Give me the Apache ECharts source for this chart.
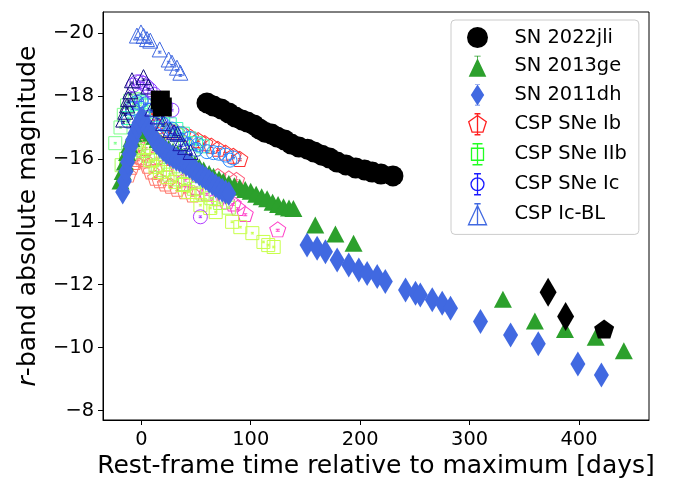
<!DOCTYPE html>
<html>
<head>
<meta charset="utf-8">
<script src="https://cdn.jsdelivr.net/npm/echarts@6/dist/echarts.min.js"></script>
<style>
  html, body { margin: 0; padding: 0; background: #ffffff; }
  #chart { width: 676px; height: 482px; }
</style>
</head>
<body>
<div id="chart"></div>
<script>
// ---- Axis ticks ----------------------------------------------------------
const xTicks = [0, 100, 200, 300, 400];
const yTicks = [-20, -18, -16, -14, -12, -10, -8];

// ---- SN 2022jli (black) : [day, mag] -------------------------------------
const jliCircles = [
  [60, -17.78], [66, -17.68], [73, -17.59], [80, -17.46], [86, -17.33],
  [92, -17.24], [97, -17.17], [103, -17.08], [108, -16.95], [113, -16.85],
  [119, -16.79], [124, -16.70], [131, -16.60], [137, -16.47], [144, -16.38],
  [152, -16.31], [158, -16.22], [165, -16.12], [172, -16.03], [179, -15.90],
  [187, -15.81], [196, -15.71], [204, -15.65], [211, -15.58], [219, -15.52],
  [230, -15.46]
];
const jliSquares = [[17.4, -17.87], [19.2, -17.65]];
const jliDiamonds = [[371.8, -11.76], [387.8, -10.99]];
const jliPentagons = [[423, -10.59]];

// ---- SN 2013ge (green triangles) ----------------------------------------
const sn2013ge = [
  [-19, -15.3], [-17, -15.6], [-15, -15.9], [-13, -16.2], [-11, -16.45],
  [-9, -16.65], [-7, -16.8], [-5, -16.9], [-3, -16.97], [0, -17.0],
  [3, -16.98], [6, -16.9], [9, -16.82], [12, -16.72], [15, -16.62],
  [18, -16.52], [21, -16.43], [25, -16.33], [29, -16.24], [33, -16.16],
  [37, -16.08], [41, -16.0], [45, -15.92], [49, -15.83], [53, -15.74],
  [57, -15.65], [62, -15.54], [66, -15.45], [71, -15.36], [75, -15.29],
  [80, -15.22], [85, -15.15], [90, -15.1], [95, -15.03], [100, -14.97],
  [105, -14.88], [110, -14.8], [115, -14.73], [120, -14.62], [125, -14.55],
  [130, -14.48], [135, -14.44], [139, -14.42],
  [159, -13.9], [177.4, -13.61], [194, -13.32],
  [330.5, -11.54], [359.7, -10.85], [387.2, -10.58], [415.3, -10.33], [441, -9.9]
];

// ---- SN 2011dh (blue thin diamonds) -------------------------------------
const sn2011dh = [
  [-17, -14.95], [-15.5, -15.3], [-14, -15.6], [-12.5, -15.9], [-11, -16.15],
  [-9.5, -16.4], [-8, -16.6], [-6, -16.8], [-4, -17.0], [-2, -17.15],
  [0, -17.28], [2, -17.22], [4, -17.1], [6, -16.95], [8, -16.85],
  [10, -16.75], [12, -16.62], [14, -16.52], [17, -16.4], [20, -16.3],
  [23, -16.2], [26, -16.13], [29, -16.07], [32, -16.0], [35, -15.95],
  [38, -15.9], [41, -15.83], [44, -15.77], [47, -15.68], [50, -15.6],
  [53, -15.52], [56, -15.45], [59, -15.38], [62, -15.3], [65, -15.22],
  [68, -15.14], [71, -15.07], [74, -15.0], [77, -14.95], [80, -14.9],
  [151.5, -13.26], [160.7, -13.16], [168.3, -13.05], [179, -12.79], [189.6, -12.63],
  [198.8, -12.47], [206.4, -12.36], [215.6, -12.26], [223, -12.1], [241.5, -11.83],
  [250.6, -11.73], [255, -11.67], [265.9, -11.52], [275, -11.41], [282.6, -11.25],
  [310, -10.83], [337.5, -10.4], [362.8, -10.12], [399, -9.48], [420.5, -9.13]
];

// ---- CSP SNe Ib (hollow pentagons) --------------------------------------
const ibSalmon = [
  [-12, -15.5], [-9, -15.75], [-6, -15.9], [-3, -16.0], [0, -16.05],
  [3, -15.95], [6, -15.78], [9, -15.6], [13, -15.4], [17, -15.32],
  [22, -15.22], [27, -15.15], [33, -15.05], [40, -14.97], [47, -14.87]
];
const ibRed = [
  [5, -17.3], [10, -17.2], [15, -17.05], [20, -16.95], [26, -16.9],
  [32, -16.85], [38, -16.8], [45, -16.7], [52, -16.6], [58, -16.5],
  [64, -16.42], [70, -16.32], [77, -16.2], [84, -16.1], [90, -16.0]
];
const ibRose = [
  [-4, -16.5], [4, -16.35], [14, -16.05], [24, -15.85], [34, -15.7],
  [46, -15.6], [58, -15.5], [70, -15.45], [80, -15.38], [87, -15.33]
];
const ibMagenta = [
  [40, -15.35], [50, -15.1], [60, -14.9], [70, -14.75], [78, -14.65],
  [84, -14.58], [88, -14.44], [95, -14.25], [124.7, -13.76]
];

// ---- CSP SNe IIb (hollow squares) ---------------------------------------
const iibYellowGreen = [
  [2, -16.38], [8, -15.96], [13, -15.74], [17, -15.58], [24, -15.42],
  [31, -15.27], [38, -15.17], [43, -14.95], [51, -14.85], [54, -14.53],
  [63, -14.44], [68, -14.31], [83, -14.0], [90.5, -13.83], [101.5, -13.64],
  [111.6, -13.36], [116, -13.26], [121, -13.2]
];
const iibLightGreen = [
  [-23.8, -16.5], [-19, -17.0], [-16, -17.4], [-13, -17.7], [-10, -17.85],
  [-6, -17.9], [-2, -17.85], [3, -17.7], [8, -17.5], [14, -17.3],
  [20, -17.1], [27, -16.9], [33, -16.75], [40, -16.5], [48, -16.3]
];
const iibAqua = [
  [-12, -17.3], [-8, -17.6], [-4, -17.75], [0, -17.8], [4, -17.7],
  [9, -17.55], [14, -17.4], [20, -17.25], [26, -17.1], [32, -16.95],
  [38, -16.8], [44, -16.65], [50, -16.5], [56, -16.4]
];
const iibLime = [
  [-18, -15.8], [-14, -16.0], [-10, -16.2], [-6, -16.3], [-2, -16.35],
  [2, -16.25], [6, -16.1], [10, -15.95], [15, -15.8], [20, -15.65],
  [26, -15.5], [33, -15.35], [40, -15.2], [48, -15.05], [56, -14.9],
  [64, -14.75], [72, -14.6], [80, -14.45]
];

// ---- CSP SNe Ic (hollow circles) ----------------------------------------
const icViolet = [
  [-10, -17.9], [-7, -18.35], [-4, -18.45], [-1, -18.45], [2, -18.4],
  [5, -18.3], [8, -18.2], [12, -18.05], [17, -17.85], [22, -17.7], [28, -17.55]
];
const icBlue = [
  [-12, -17.2], [-8, -17.6], [-4, -17.8], [0, -17.85], [4, -17.75],
  [8, -17.55], [13, -17.35], [18, -17.15], [24, -16.95], [30, -16.8],
  [36, -16.6], [42, -16.45], [50, -16.3]
];
const icDodger = [
  [20, -17.1], [28, -16.95], [36, -16.8], [44, -16.65], [52, -16.45],
  [60, -16.23], [66, -16.2], [71, -16.18], [77, -16.12], [81, -15.96], [84, -16.03]
];
const icPurple = [[54, -14.16]];

// ---- CSP Ic-BL (hollow triangles) ---------------------------------------
const blRoyal = [
  [-4, -19.92], [-0.3, -20.02], [2.1, -19.91], [5.2, -19.81], [8.2, -19.76],
  [16.8, -19.48], [25, -19.16], [28, -19.06], [32.6, -18.9], [35.7, -18.74]
];
const blNavy = [
  [-16.5, -17.25], [-14.6, -17.5], [-13, -17.7], [-12, -17.9], [-10, -18.15],
  [-8.5, -18.5], [2, -18.6], [6.4, -18.3]
];
const blDark = [
  [10, -17.6], [15, -17.35], [20, -17.14], [26.5, -16.92], [30, -16.85],
  [33, -16.8], [35.7, -16.5], [40, -16.38], [45, -16.22]
];

// ---- Marker shapes --------------------------------------------------------
// small error bar drawn inside the open markers
const IBEAM = ' M38,44 L62,44 M50,44 L50,56 M38,56 L62,56';
const PENT = 'path://M50,0 L97.55,34.55 L79.39,90.45 L20.61,90.45 L2.45,34.55 Z';
const PENT_OPEN = PENT + IBEAM;
const SQUARE_OPEN = 'path://M0,0 L100,0 L100,100 L0,100 Z' + IBEAM;
const CIRCLE_OPEN = 'path://M50,0 A50,50 0 1,1 50,100 A50,50 0 1,1 50,0 Z' + IBEAM;
const TRI_OPEN = 'path://M50,0 L100,100 L0,100 Z M38,62 L62,62 M50,62 L50,74 M38,74 L62,74';

// legend glyphs: marker with its vertical error bar and caps
const LEG_TRI_FILLED = 'path://M50,12 L92,100 L8,100 Z M35,0 L65,0 L65,4 L35,4 Z M48,0 L52,0 L52,14 L48,14 Z';
const LEG_DIAMOND = 'path://M50,0 L82,50 L50,100 L18,50 Z M38,0 L62,0 L62,3 L38,3 Z M38,97 L62,97 L62,100 L38,100 Z';
const LEG_PENT = 'path://M50,8 L91.85,38.4 L75.86,87.6 L24.14,87.6 L8.15,38.4 Z M50,0 L50,100 M36,0 L64,0 M36,100 L64,100';
const LEG_SQUARE = 'path://M5,22.5 L65,22.5 L65,82.5 L5,82.5 Z M35,0 L35,105 M10,0 L60,0 M10,105 L60,105';
const LEG_CIRCLE = 'path://M35,20 A32,32 0 1,1 35,84 A32,32 0 1,1 35,20 Z M35,0 L35,104 M18,0 L52,0 M18,104 L52,104';
const LEG_TRI_OPEN = 'path://M45,8 L88,100 L2,100 Z M45,0 L45,100 M30,0 L60,0 M30,100 L60,100';

// ---- Series helpers -------------------------------------------------------
function filled(name, data, symbol, size, color, z) {
  return {
    type: 'scatter', name: name, data: data, symbol: symbol, symbolSize: size,
    z: z, silent: true,
    itemStyle: { color: color, opacity: 1 }
  };
}
function hollow(name, data, symbol, size, color, z) {
  return {
    type: 'scatter', name: name, data: data, symbol: symbol, symbolSize: size,
    z: z, silent: true,
    itemStyle: { color: 'rgba(0,0,0,0)', borderColor: color, borderWidth: 1, opacity: 1 }
  };
}

const NAME_JLI = 'SN 2022jli';
const NAME_GE = 'SN 2013ge';
const NAME_DH = 'SN 2011dh';
const NAME_IB = 'CSP SNe Ib';
const NAME_IIB = 'CSP SNe IIb';
const NAME_IC = 'CSP SNe Ic';
const NAME_BL = 'CSP Ic-BL';

// drawing order: CSP Ib/IIb/Ic below the two reference SNe, Ic-BL and SN 2022jli above
const series = [
  hollow(NAME_IB, ibSalmon, PENT_OPEN, [16, 15], '#ff7a6e', 2),
  hollow(NAME_IB, ibRose, PENT_OPEN, [16, 15], '#ff5a78', 2),
  hollow(NAME_IB, ibRed, PENT_OPEN, [16, 15], '#ff3030', 2),
  hollow(NAME_IB, ibMagenta, PENT_OPEN, [16, 15], '#ff40c8', 2),
  hollow(NAME_IIB, iibLime, SQUARE_OPEN, 13, '#a8ff5a', 2),
  hollow(NAME_IIB, iibYellowGreen, SQUARE_OPEN, 13, '#c8ff4a', 2),
  hollow(NAME_IIB, iibLightGreen, SQUARE_OPEN, 13, '#7dff8a', 2),
  hollow(NAME_IIB, iibAqua, SQUARE_OPEN, 13, '#3cffb4', 2),
  hollow(NAME_IC, icBlue, CIRCLE_OPEN, 14, '#3a5aff', 2),
  hollow(NAME_IC, icViolet, CIRCLE_OPEN, 14, '#8a3cff', 2),
  hollow(NAME_IC, icDodger, CIRCLE_OPEN, 14, '#2a8cff', 2),
  hollow(NAME_IC, icPurple, CIRCLE_OPEN, 14, '#b23cff', 2),
  filled(NAME_GE, sn2013ge, 'triangle', [18, 17], '#2ca02c', 3),
  filled(NAME_DH, sn2011dh, 'diamond', [15, 25], '#4169e1', 4),
  hollow(NAME_BL, blRoyal, TRI_OPEN, 15, '#4169e1', 5),
  hollow(NAME_BL, blNavy, TRI_OPEN, 15, '#10107a', 5),
  hollow(NAME_BL, blDark, TRI_OPEN, 15, '#1c1ca8', 5),
  filled(NAME_JLI, jliCircles, 'circle', 21, '#000000', 6),
  filled(NAME_JLI, jliSquares, 'rect', 19, '#000000', 6),
  filled(NAME_JLI, jliDiamonds, 'diamond', [17, 29], '#000000', 6),
  filled(NAME_JLI, jliPentagons, PENT, [20, 19], '#000000', 6)
];

const FONT = 'DejaVu Sans';
const minusFmt = v => (v < 0 ? '\u2212' + Math.abs(v) : String(v));

const option = {
  animation: false,
  backgroundColor: '#ffffff',
  grid: {
    left: 103, right: 27, top: 12, bottom: 62,
    show: true, borderColor: '#000000', borderWidth: 1,
    containLabel: false, outerBoundsMode: 'none'
  },
  legend: {
    left: 451, top: 20, orient: 'vertical', z: 10,
    selectedMode: false,
    backgroundColor: 'rgba(255,255,255,0.8)',
    borderColor: '#cccccc', borderWidth: 1, borderRadius: 4,
    padding: [7, 12, 9, 16],
    itemWidth: 24, itemHeight: 21, itemGap: 7.7,
    textStyle: { fontFamily: FONT, fontSize: 19.4, color: '#000000', lineHeight: 21, padding: [0, 0, 0, 20] },
    data: [
      { name: NAME_JLI, icon: 'circle', itemStyle: { color: '#000000', borderWidth: 0 } },
      { name: NAME_GE, icon: LEG_TRI_FILLED, itemStyle: { color: '#2ca02c', borderWidth: 0 } },
      { name: NAME_DH, icon: LEG_DIAMOND, itemStyle: { color: '#4169e1', borderWidth: 0 } },
      { name: NAME_IB, icon: LEG_PENT, itemStyle: { color: 'rgba(0,0,0,0)', borderColor: '#ff2020', borderWidth: 1.3 } },
      { name: NAME_IIB, icon: LEG_SQUARE, itemStyle: { color: 'rgba(0,0,0,0)', borderColor: '#22ff22', borderWidth: 1.3 } },
      { name: NAME_IC, icon: LEG_CIRCLE, itemStyle: { color: 'rgba(0,0,0,0)', borderColor: '#1a1aff', borderWidth: 1.3 } },
      { name: NAME_BL, icon: LEG_TRI_OPEN, itemStyle: { color: 'rgba(0,0,0,0)', borderColor: '#4169e1', borderWidth: 1.3 } }
    ]
  },
  xAxis: {
    type: 'value', min: -35, max: 464,
    name: 'Rest-frame time relative to maximum [days]',
    nameLocation: 'middle', nameGap: 33,
    nameTextStyle: { fontFamily: FONT, fontSize: 25, color: '#000000' },
    axisLine: { show: true, onZero: false, lineStyle: { color: '#000000', width: 1 } },
    axisTick: { show: true, length: 5, inside: false, customValues: xTicks, lineStyle: { color: '#000000', width: 1 } },
    axisLabel: { show: true, margin: 10, customValues: xTicks, fontFamily: FONT, fontSize: 19.4, color: '#000000', formatter: minusFmt },
    splitLine: { show: false }
  },
  yAxis: {
    type: 'value', min: -20.67, max: -7.70, inverse: true,
    name: '{it|r}-band absolute magnitude',
    nameLocation: 'middle', nameGap: 62, nameRotate: 90,
    nameTextStyle: {
      fontFamily: FONT, fontSize: 25, color: '#000000',
      rich: { it: { fontFamily: FONT, fontSize: 25, fontStyle: 'italic', color: '#000000' } }
    },
    axisLine: { show: true, onZero: false, lineStyle: { color: '#000000', width: 1 } },
    axisTick: { show: true, length: 5, inside: false, customValues: yTicks, lineStyle: { color: '#000000', width: 1 } },
    axisLabel: { show: true, margin: 9, customValues: yTicks, fontFamily: FONT, fontSize: 19.4, color: '#000000', formatter: minusFmt },
    splitLine: { show: false }
  },
  series: series
};

const chart = echarts.init(document.getElementById('chart'), null, { renderer: 'canvas' });
chart.setOption(option);
</script>
</body>
</html>
